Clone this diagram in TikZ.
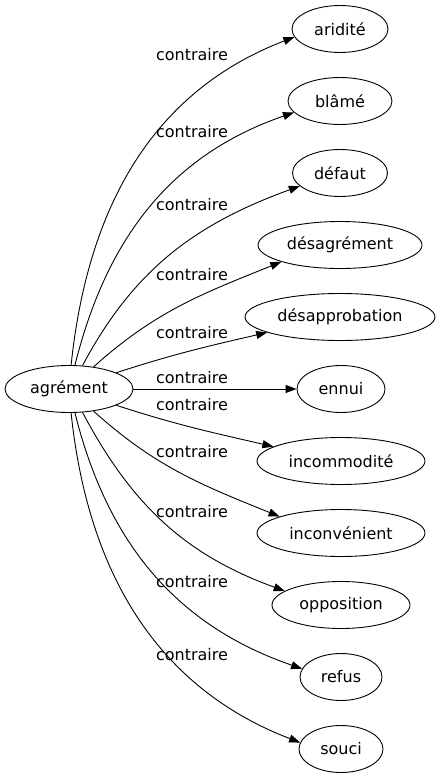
\documentclass[tikz,border=0pt]{standalone}
\usepackage{fontspec}
\setmainfont{DejaVu Sans}
\usetikzlibrary{shapes.geometric,arrows.meta}
\tikzset{
  term/.style={ellipse, draw, line width=0.9pt, inner sep=0pt, minimum height=47pt, font=\fontsize{16}{19}\selectfont},
  rel/.style={line width=0.9pt, -{Triangle[length=11pt,width=8pt]}},
  lab/.style={inner sep=0pt, font=\fontsize{16}{19}\selectfont}
}
\begin{document}
\begin{tikzpicture}[x=1pt,y=1pt]
\useasboundingbox (0,0) rectangle (441,-779);
\node[term, minimum width=128pt] (src) at (69,-389) {agrément};
\node[term, minimum width=96pt]  (t1)  at (340,-29)  {aridité};
\node[term, minimum width=104pt] (t2)  at (340,-101) {blâmé};
\node[term, minimum width=95pt]  (t3)  at (340,-173) {défaut};
\node[term, minimum width=164pt] (t4)  at (340,-245) {désagrément};
\node[term, minimum width=190pt] (t5)  at (340,-317) {désapprobation};
\node[term, minimum width=88pt]  (t6)  at (341,-389) {ennui};
\node[term, minimum width=168pt] (t7)  at (341,-461) {incommodité};
\node[term, minimum width=168pt] (t8)  at (341,-533) {inconvénient};
\node[term, minimum width=138pt] (t9)  at (341,-605) {opposition};
\node[term, minimum width=82pt]  (t10) at (341,-677) {refus};
\node[term, minimum width=84pt]  (t11) at (341,-749) {souci};

\draw[rel] (src.85)  to[out=84,in=201]  (t1.190);
\draw[rel] (src.76)  to[out=76,in=199]  (t2.194);
\draw[rel] (src.60)  to[out=62,in=200]  (t3.198);
\draw[rel] (src.42)  to[out=42,in=202]  (t4.196);
\draw[rel] (src.19)  to[out=18,in=193]  (t5.192);
\draw[rel] (src) -- (t6);
\draw[rel] (src.341) to[out=-18,in=167] (t7.168);
\draw[rel] (src.318) to[out=-42,in=158] (t8.165);
\draw[rel] (src.300) to[out=-62,in=160] (t9.166);
\draw[rel] (src.284) to[out=-76,in=161] (t10.168);
\draw[rel] (src.275) to[out=-84,in=159] (t11.171);

\node[lab] (l1)  at (192,-55)  {contraire};
\node[lab] (l2)  at (192,-132) {contraire};
\node[lab] (l3)  at (192,-205) {contraire};
\node[lab] (l4)  at (192,-275) {contraire};
\node[lab] (l5)  at (192,-333) {contraire};
\node[lab] (l6)  at (192,-378) {contraire};
\node[lab] (l7)  at (192,-405) {contraire};
\node[lab] (l8)  at (192,-452) {contraire};
\node[lab] (l9)  at (192,-512) {contraire};
\node[lab] (l10) at (192,-582) {contraire};
\node[lab] (l11) at (192,-655) {contraire};
\end{tikzpicture}
\end{document}
